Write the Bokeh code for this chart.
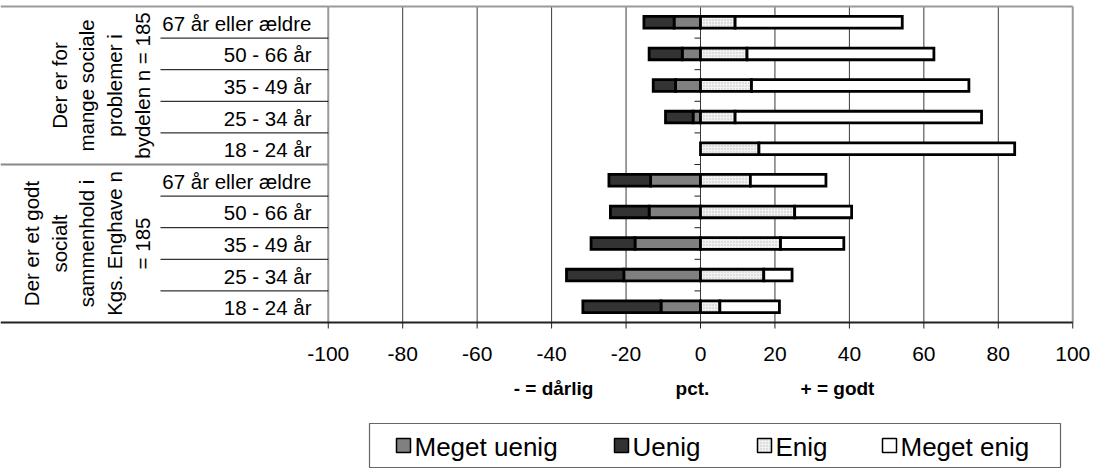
import numpy as np
from bokeh.plotting import figure
from bokeh.models import Range1d, ColumnDataSource
from bokeh.embed import file_html
from bokeh.resources import INLINE
from bokeh.core.properties import value

# ---------------- data ----------------
group_lines = [
    ["Der er for", "mange sociale", "problemer i", "bydelen n = 185"],
    ["Der er et godt", "socialt", "sammenhold i", "Kgs. Enghave n", "= 185"],
]
ages = ["67 år eller ældre", "50 - 66 år", "35 - 49 år", "25 - 34 år", "18 - 24 år"]

# rows top -> bottom: group 1 (5 ages), group 2 (5 ages)
meget_uenig = [7.1, 4.9, 6.7, 2.0, 0.0, 13.4, 13.8, 17.6, 20.6, 10.6]
uenig = [8.1, 8.9, 6.0, 7.4, 0.0, 11.2, 10.4, 11.8, 15.4, 21.0]
enig = [9.3, 12.5, 13.7, 9.3, 15.7, 13.4, 25.3, 21.5, 17.0, 5.2]
meget_enig = [44.9, 50.2, 58.4, 66.2, 68.7, 20.3, 15.3, 17.0, 7.6, 16.0]

x_ticks = [-100, -80, -60, -40, -20, 0, 20, 40, 60, 80, 100]
legend_labels = ["Meget uenig", "Uenig", "Enig", "Meget enig"]
axis_labels = ["- = dårlig", "pct.", "+ = godt"]

# ---------------- layout helpers (pixel -> data) ----------------
W, H = 1097, 469
X0PX, XSC = 700.0, 3.7225       # pixel of 0 and pixels per percent
Y0PX, YSC = 6.0, 31.6           # pixel of top row edge and pixels per row


def xd(px):
    return (px - X0PX) / XSC


def yd(py):
    return (py - Y0PX) / YSC


FONT = value("Liberation Sans")
C_MU, C_U, C_E, C_ME = "#808080", "#333333", "#f2f2f2", "#ffffff"

p = figure(width=W, height=H, x_range=Range1d(xd(0), xd(W)), y_range=Range1d(yd(H), yd(0)),
           x_axis_type=None, y_axis_type=None, toolbar_location=None,
           output_backend="svg", min_border=0, outline_line_color=None,
           background_fill_color="white", border_fill_color="white")
p.grid.visible = False

n = len(ages) * len(group_lines)
rows = np.arange(n) + 0.5

# grid lines
inner = [t for t in x_ticks if -100 < t < 100]
p.segment(x0=inner, y0=[0] * len(inner), x1=inner, y1=[n] * len(inner), line_color="#3a3a3a", line_width=1)
# frame borders
p.segment(x0=[-100, 100], y0=[0, 0], x1=[-100, 100], y1=[n, n], line_color="#999999", line_width=2)
p.segment(x0=[xd(0)], y0=[0], x1=[100], y1=[0], line_color="#999999", line_width=2)

# table separators
sep_rows = [k for k in range(1, n) if k != len(ages)]
p.segment(x0=[xd(160)] * len(sep_rows), y0=sep_rows, x1=[-100] * len(sep_rows), y1=sep_rows,
          line_color="#000000", line_width=1)
p.segment(x0=[xd(0)], y0=[len(ages)], x1=[-100], y1=[len(ages)], line_color="#888888", line_width=2)

# bottom axis line and ticks
p.segment(x0=[xd(0)], y0=[n], x1=[100], y1=[n], line_color="#222222", line_width=2)
p.segment(x0=x_ticks, y0=[n] * len(x_ticks), x1=x_ticks, y1=[yd(328)] * len(x_ticks),
          line_color="#222222", line_width=1)
# category ticks on the zero axis
bnd = list(range(1, n + 1))
p.segment(x0=[xd(694)] * len(bnd), y0=bnd, x1=[0] * len(bnd), y1=bnd, line_color="#222222", line_width=1)

# bars
mu = np.array(meget_uenig)
u = np.array(uenig)
e = np.array(enig)
me = np.array(meget_enig)
segs = [
    (0 * mu, -mu, C_MU, None, mu),
    (-mu, -(mu + u), C_U, None, u),
    (0 * e, e, C_E, "dot", e),
    (e, e + me, C_ME, None, me),
]
BH = 0.37
for a, b, col, hatch, v in segs:
    m = v > 0
    src = ColumnDataSource(dict(y=rows[m], left=np.minimum(a, b)[m], right=np.maximum(a, b)[m]))
    kw = {}
    if hatch:
        kw = dict(hatch_pattern=hatch, hatch_color="#bdbdbd", hatch_scale=3, hatch_weight=1)
    p.hbar(y="y", left="left", right="right", height=BH, source=src, fill_color=col,
           line_color="#000000", line_width=2.8, line_join="miter", **kw)

# age labels
all_ages = ages * len(group_lines)
p.text(x=[xd(311)] * n, y=list(rows + 0.03), text=all_ages, text_align="right", text_baseline="middle",
       text_font=FONT, text_font_size="20.5px", text_color="#000000")

# group labels (rotated)
base_px = [31, 58.7, 86.4, 114.1, 141.8]
for gi, lines in enumerate(group_lines):
    xs = [xd(px) for px in base_px[len(base_px) - len(lines):]]
    yc = gi * len(ages) + len(ages) / 2
    p.text(x=xs, y=[yc] * len(lines), text=lines, angle=np.pi / 2, text_align="center",
           text_baseline="alphabetic", text_font=FONT, text_font_size="20.5px", text_color="#000000")

# x tick labels
p.text(x=x_ticks, y=[yd(353)] * len(x_ticks), text=[str(t) for t in x_ticks], text_align="center",
       text_baseline="middle", text_font=FONT, text_font_size="21px", text_color="#000000")

# axis title pieces
p.text(x=[xd(553), xd(692), xd(837)], y=[yd(388)] * 3, text=axis_labels, text_align="center",
       text_baseline="middle", text_font=FONT, text_font_size="19px", text_font_style="bold",
       text_color="#000000")

# legend
p.quad(left=[xd(369)], right=[xd(1060)], top=[yd(423)], bottom=[yd(467)], fill_color="white",
       line_color="#666666", line_width=1.2)
sq_px = [396, 614, 757, 882]
cols = [C_MU, C_U, C_E, C_ME]
for i, lab in enumerate(legend_labels):
    kw = {}
    if i == 2:
        kw = dict(hatch_pattern="dot", hatch_color="#bdbdbd", hatch_scale=3, hatch_weight=1)
    p.quad(left=[xd(sq_px[i])], right=[xd(sq_px[i] + 14)], top=[yd(438)], bottom=[yd(452)],
           fill_color=cols[i], line_color="#000000", line_width=1.5, **kw)
p.text(x=[xd(px + 18) for px in sq_px], y=[yd(446)] * 4, text=legend_labels, text_align="left",
       text_baseline="middle", text_font=FONT, text_font_size="26px", text_color="#000000")

open("out.html", "w").write(file_html(p, INLINE))
